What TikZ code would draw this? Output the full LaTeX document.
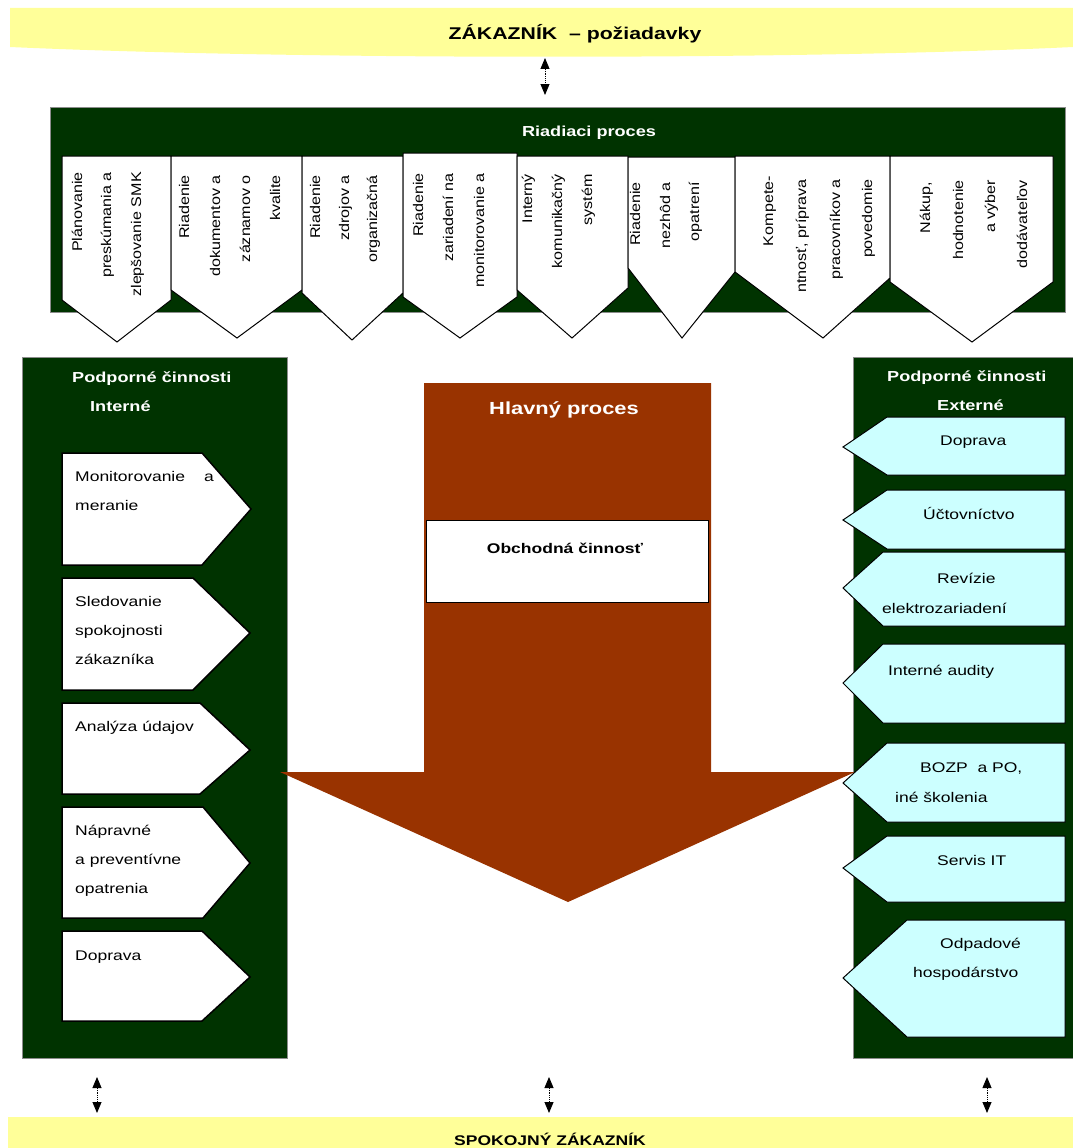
\documentclass[tikz,border=0pt]{standalone}
\usepackage{fontspec}
\setmainfont{Liberation Sans}[FakeStretch=1.25]
\newfontfamily\rotf{Liberation Sans}[FakeStretch=1.15]
\usetikzlibrary{arrows.meta}
\definecolor{dgreen}{HTML}{003300}
\definecolor{pbrown}{HTML}{993300}
\definecolor{lcyan}{HTML}{CCFFFF}
\definecolor{lyellow}{HTML}{FFFF99}
\tikzset{
  txt/.style={font=\fontsize{14}{17}\selectfont, anchor=base west, inner sep=0pt, text=black},
  rtxt/.style={font=\rotf\fontsize{14}{17}\selectfont, rotate=90, anchor=base east, inner sep=0pt, text=black},
  ttl/.style={font=\bfseries\fontsize{14.5}{17}\selectfont, text=white, anchor=base west, inner sep=0pt},
  dtab/.style={draw=black, line width=1pt, fill=white},
  ltab/.style={draw=black, line width=1.5pt, fill=white},
  ctab/.style={draw=black, line width=1pt, fill=lcyan},
  panel/.style={fill=dgreen, draw=black!45, line width=0.6pt},
  dbl/.style={{Triangle[width=9pt,length=11pt]}-{Triangle[width=9pt,length=11pt]}, densely dotted, line width=0.9pt},
}
\begin{document}
\begin{tikzpicture}[x=1pt,y=-1pt]
\useasboundingbox[fill=white] (0,0) rectangle (1073,1148);

% ---------- customer banners ----------
\fill[lyellow] (10,8) -- (1073,8) -- (1073,47) .. controls (800,60) and (300,60) .. (10,47) -- cycle;
\node[font=\bfseries\fontsize{17}{20}\selectfont, anchor=base, inner sep=0pt] (zak) at (575,40) {ZÁKAZNÍK\ \ – požiadavky};
\fill[lyellow] (8,1117) rectangle (1073,1148);
\node[font=\bfseries\fontsize{14}{17}\selectfont, anchor=base, inner sep=0pt] (spok) at (550,1145) {SPOKOJNÝ ZÁKAZNÍK};

% ---------- control process ----------
\draw[panel] (50,107) rectangle (1065,312);
\node[ttl, anchor=base] (riad) at (589,136) {Riadiaci proces};

\filldraw[dtab] (62,156) -- (171,156) -- (171,300) -- (117,342) -- (62,300) -- cycle;
\filldraw[dtab] (171,156) -- (302,156) -- (302,290) -- (237,338) -- (171,290) -- cycle;
\filldraw[dtab] (302,156) -- (403,156) -- (403,293) -- (352,340) -- (302,293) -- cycle;
\filldraw[dtab] (403,153) -- (517,153) -- (517,297) -- (460,338) -- (403,297) -- cycle;
\filldraw[dtab] (517,156) -- (628,156) -- (628,288) -- (572,338) -- (517,290) -- cycle;
\filldraw[dtab] (628,157) -- (735,157) -- (735,272) -- (682,338) -- (628,268) -- cycle;
\filldraw[dtab] (735,156) -- (890,156) -- (890,278) -- (823,338) -- (735,272) -- cycle;
\filldraw[dtab] (890,156) -- (1053,156) -- (1053,282) -- (972,342) -- (890,282) -- cycle;

\node[rtxt] (r1a) at (82,172) {Plánovanie};
\node[rtxt] (r1b) at (111,172) {preskúmania a};
\node[rtxt] (r1c) at (141,172) {zlepšovanie SMK};
\node[rtxt] (r2a) at (189,175) {Riadenie};
\node[rtxt] (r2b) at (220,175) {dokumentov a};
\node[rtxt] (r2c) at (250,175) {záznamov o};
\node[rtxt] (r2d) at (280,175) {kvalite};
\node[rtxt] (r3a) at (320,175) {Riadenie};
\node[rtxt] (r3b) at (349,175) {zdrojov a};
\node[rtxt] (r3c) at (377,175) {organizačná};
\node[rtxt] (r4a) at (423,173) {Riadenie};
\node[rtxt] (r4b) at (453,173) {zariadení na};
\node[rtxt] (r4c) at (484,173) {monitorovanie a};
\node[rtxt] (r5a) at (532,174) {Interný};
\node[rtxt] (r5b) at (562,174) {komunikačný};
\node[rtxt] (r5c) at (592,174) {systém};
\node[rtxt] (r6a) at (640,182) {Riadenie};
\node[rtxt] (r6b) at (670,182) {nezhôd a};
\node[rtxt] (r6c) at (699,182) {opatrení};
\node[rtxt] (r7a) at (773,176) {Kompete-};
\node[rtxt] (r7b) at (806,179) {ntnosť, príprava};
\node[rtxt] (r7c) at (840,179) {pracovníkov a};
\node[rtxt] (r7d) at (872,179) {povedomie};
\node[rtxt] (r8a) at (930,182) {Nákup,};
\node[rtxt] (r8b) at (963,180) {hodnotenie};
\node[rtxt] (r8c) at (995,180) {a výber};
\node[rtxt] (r8d) at (1027,180) {dodávateľov};

% ---------- support panels ----------
\draw[panel] (22,357) rectangle (287,1058);
\draw[panel] (853,357) rectangle (1085,1058);
\node[ttl] (lt1) at (72,382) {Podporné činnosti};
\node[ttl] (lt2) at (90,411) {Interné};
\node[ttl] (rt1) at (887,381) {Podporné činnosti};
\node[ttl] (rt2) at (937,410) {Externé};

% ---------- main process arrow ----------
\fill[pbrown] (424,383) -- (711,383) -- (711,772) -- (855,772) -- (568,902) -- (280,772) -- (424,772) -- cycle;
\node[font=\bfseries\fontsize{17.5}{20}\selectfont, text=white, anchor=base, inner sep=0pt] (hlav) at (564,414) {Hlavný proces};
\draw[fill=white, draw=black, line width=1pt] (426,520) rectangle (708,602);
\node[font=\bfseries\fontsize{14}{17}\selectfont, anchor=base, inner sep=0pt] (obch) at (565,553) {Obchodná činnosť};

% ---------- internal support tabs ----------
\filldraw[ltab] (62,453) -- (202,453) -- (251,509) -- (202,565) -- (62,565) -- cycle;
\filldraw[ltab] (62,578) -- (193,578) -- (250,633) -- (193,690) -- (62,690) -- cycle;
\filldraw[ltab] (62,703) -- (200,703) -- (250,750) -- (200,794) -- (62,794) -- cycle;
\filldraw[ltab] (62,807) -- (203,807) -- (250,863) -- (203,918) -- (62,918) -- cycle;
\filldraw[ltab] (62,931) -- (202,931) -- (250,977) -- (202,1021) -- (62,1021) -- cycle;

\node[txt] (l1a) at (75,481) {Monitorovanie\hspace{19pt}a};
\node[txt] (l1b) at (75,510) {meranie};
\node[txt] (l2a) at (75,606) {Sledovanie};
\node[txt] (l2b) at (75,635) {spokojnosti};
\node[txt] (l2c) at (75,664) {zákazníka};
\node[txt] (l3a) at (75,731) {Analýza údajov};
\node[txt] (l4a) at (75,835) {Nápravné};
\node[txt] (l4b) at (75,864) {a preventívne};
\node[txt] (l4c) at (75,893) {opatrenia};
\node[txt] (l5a) at (75,960) {Doprava};

% ---------- external support tabs ----------
\filldraw[ctab] (1065,417) -- (887,417) -- (843,447) -- (887,475) -- (1065,475) -- cycle;
\filldraw[ctab] (1065,490) -- (887,490) -- (843,520) -- (887,549) -- (1065,549) -- cycle;
\filldraw[ctab] (1065,552) -- (883,552) -- (843,588) -- (883,626) -- (1065,626) -- cycle;
\filldraw[ctab] (1065,644) -- (883,644) -- (843,683) -- (883,723) -- (1065,723) -- cycle;
\filldraw[ctab] (1065,743) -- (887,743) -- (843,783) -- (887,822) -- (1065,822) -- cycle;
\filldraw[ctab] (1065,836) -- (887,836) -- (843,868) -- (887,902) -- (1065,902) -- cycle;
\filldraw[ctab] (1065,920) -- (907,920) -- (843,978) -- (907,1037) -- (1065,1037) -- cycle;

\node[txt] (e1a) at (940,445) {Doprava};
\node[txt] (e2a) at (923,519) {Účtovníctvo};
\node[txt] (e3a) at (937,583) {Revízie};
\node[txt] (e3b) at (882,613) {elektrozariadení};
\node[txt] (e4a) at (888,675) {Interné audity};
\node[txt] (e5a) at (920,772) {BOZP\ \ a PO,};
\node[txt] (e5b) at (895,802) {iné školenia};
\node[txt] (e6a) at (937,865) {Servis IT};
\node[txt] (e7a) at (940,948) {Odpadové};
\node[txt] (e7b) at (913,977) {hospodárstvo};

% ---------- double arrows ----------
\coordinate (a0t) at (545,58);  \coordinate (a0b) at (545,95);
\coordinate (a1t) at (97,1077); \coordinate (a1b) at (97,1113);
\coordinate (a2t) at (549,1077); \coordinate (a2b) at (549,1113);
\coordinate (a3t) at (987,1077); \coordinate (a3b) at (987,1113);
\draw[dbl] (a0t) -- (a0b);
\draw[dbl] (a1t) -- (a1b);
\draw[dbl] (a2t) -- (a2b);
\draw[dbl] (a3t) -- (a3b);
\end{tikzpicture}
\end{document}
